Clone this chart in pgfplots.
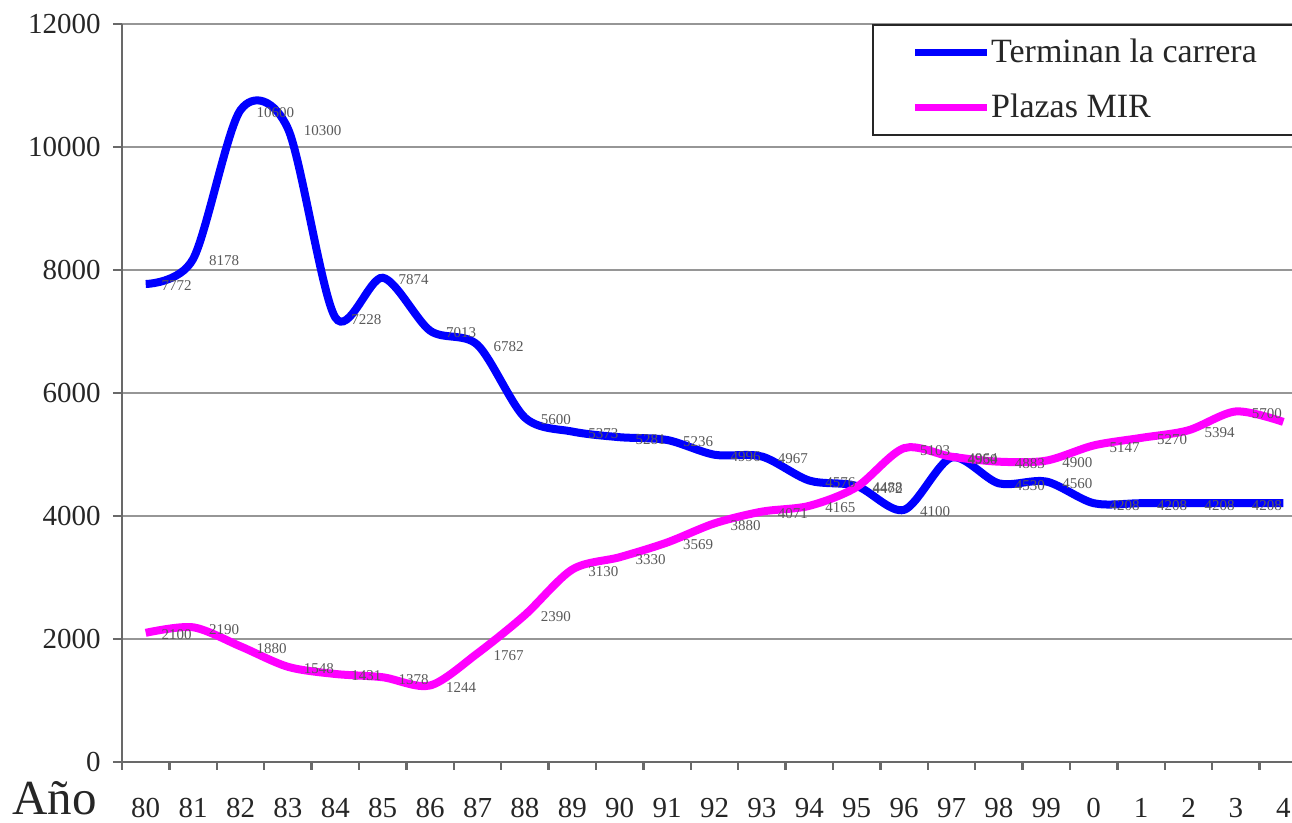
\documentclass[border=0pt]{standalone}
\usepackage{pgfplots}
\pgfplotsset{compat=1.18}
\usepackage{fontspec}
\setmainfont{Liberation Serif}
\definecolor{cblue}{RGB}{0,0,255}
\definecolor{cmag}{RGB}{255,0,255}
\definecolor{gridgray}{RGB}{150,150,150}
\definecolor{axgray}{RGB}{105,105,105}

\pgfplotstableread{
x y
0 7772
1 8178
2 10600
3 10300
4 7228
5 7874
6 7013
7 6782
8 5600
9 5373
10 5281
11 5236
12 4996
13 4967
14 4576
15 4488
16 4100
17 4950
18 4530
19 4560
20 4208
21 4208
22 4208
23 4208
24 4208
}\terminan

\pgfplotstableread{
x y
0 2100
1 2190
2 1880
3 1548
4 1431
5 1378
6 1244
7 1767
8 2390
9 3130
10 3330
11 3569
12 3880
13 4071
14 4165
15 4472
16 5103
17 4964
18 4883
19 4900
20 5147
21 5270
22 5394
23 5700
24 5530
}\plazas

\begin{document}
\begin{tikzpicture}
\useasboundingbox (0,0) rectangle (646pt,411.5pt);
\clip (0,0) rectangle (646pt,411.5pt);
\begin{axis}[
  at={(61pt,30.5pt)}, anchor=south west,
  scale only axis, width=592.5pt, height=369pt,
  xmin=-0.5, xmax=24.5, ymin=0, ymax=12000,
  axis lines*=left,
  axis line style={axgray, line width=1.2pt},
  xtick={0,...,24},
  xticklabels={80,81,82,83,84,85,86,87,88,89,90,91,92,93,94,95,96,97,98,99,0,1,2,3,4},
  minor xtick={-0.5,0.5,...,24.5},
  ytick={0,2000,...,12000},
  scaled y ticks=false,
  tick align=outside,
  major tick length=4.5pt, minor tick length=4pt,
  tick style={axgray, line width=1.2pt},
  every major x tick/.append style={draw=none},
  ymajorgrids,
  major grid style={gridgray, line width=1.2pt},
  /pgf/number format/assume math mode=true,
  /pgf/number format/1000 sep={},
  tick label style={font=\fontsize{14.5}{16}\selectfont, text=black!85},
  xticklabel style={anchor=north, inner sep=0pt, yshift=-13.5pt},
  yticklabel style={anchor=east, inner sep=0pt, xshift=-6pt},
  xlabel={Año},
  xlabel style={at={(axis description cs:-0.0928,-0.0718)}, anchor=base west,
    font=\fontsize{24.5}{28}\selectfont, inner sep=0pt, text=black!85},
  every node near coord/.append style={font=\fontsize{7.5}{8}\selectfont,
    text=black!65, anchor=west, xshift=6pt, yshift=-1pt, inner sep=0pt},
  legend image code/.code={
    \draw[#1, line width=3.3pt] (0pt,0pt) -- (36pt,0pt);
    \path[draw=none, fill=none] (-21pt,-13.75pt) rectangle (38pt,13.75pt);
  },
  legend style={at={(axis description cs:0.6329,1)}, anchor=north west,
    draw=black!85, line width=1.2pt, fill=white,
    inner xsep=0pt, inner ysep=0pt, row sep=0pt,
    nodes={inner sep=0pt},
    font=\fontsize{17}{20}\selectfont, text=black!85},
  legend cell align=left,
]
\addplot[cblue, line width=4pt, smooth, nodes near coords] table[x=x, y=y] {\terminan};
\addlegendentry{Terminan la carrera\hspace*{40pt}}
\addplot[cmag, line width=4pt, smooth, nodes near coords] table[x=x, y=y] {\plazas};
\addlegendentry{Plazas MIR}
\end{axis}
\end{tikzpicture}
\end{document}
